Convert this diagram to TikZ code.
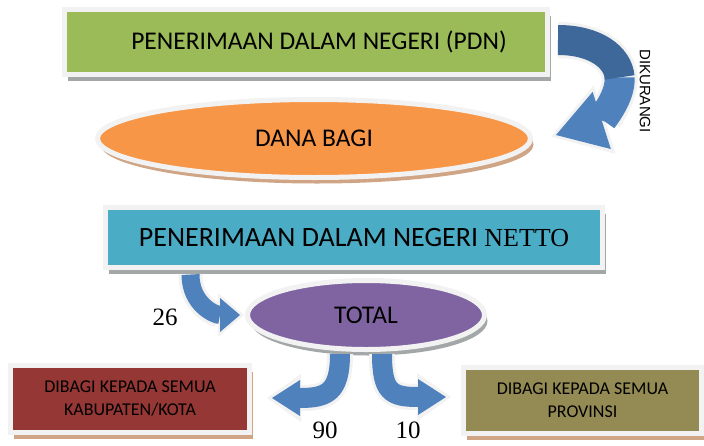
\documentclass[tikz,border=0pt]{standalone}
\usepackage{fontspec}
\setmainfont{Carlito}
\newfontfamily\serifnum{Liberation Serif}
\newfontfamily\arialtxt{Liberation Sans}
\usetikzlibrary{arrows.meta,shapes.geometric,shadows}
\definecolor{pdngreen}{HTML}{9BBB59}
\definecolor{danaorange}{HTML}{F79646}
\definecolor{nettocyan}{HTML}{4BACC6}
\definecolor{totalpurple}{HTML}{8064A2}
\definecolor{kabred}{HTML}{953735}
\definecolor{provolive}{HTML}{948A54}
\definecolor{arrblue}{HTML}{4F81BD}
\definecolor{arrdark}{HTML}{3D6899}
\definecolor{rimgray}{HTML}{F2F2F2}
\definecolor{shgray}{HTML}{A3A7A8}
\definecolor{shtan}{HTML}{D0A585}
\tikzset{
  rimmed/.style     = {draw=rimgray, line width=5pt, inner sep=0pt, align=center},
  castshadow/.style = {drop shadow={shadow xshift=3pt, shadow yshift=-6pt, fill=#1, opacity=1}},
  bigtxt/.style     = {font=\fontsize{25.5}{30}\selectfont},
  smalltxt/.style   = {font=\fontsize{18}{23}\selectfont},
  numtxt/.style     = {font=\serifnum\fontsize{25}{28}\selectfont, inner sep=1pt},
  halo/.style       = {draw=rimgray, line width=#1},
  band/.style       = {draw=arrblue, line width=#1},
}

\begin{document}
\begin{tikzpicture}[x=1pt,y=-1pt]
    \useasboundingbox[fill=white] (0,0) rectangle (704,445);
    \node[rimmed, castshadow=shgray, fill=pdngreen, minimum width=483pt, minimum height=65pt, bigtxt] (pdn) at (306,42) {\hspace*{26pt}PENERIMAAN DALAM NEGERI (PDN)};
    \node[rimmed, ellipse, castshadow=shtan, fill=danaorange, minimum width=433pt, minimum height=78pt, bigtxt] (dana) at (314,138.5) {\raisebox{-3pt}{DANA BAGI}};
    \node[rimmed, castshadow=shgray, fill=nettocyan, minimum width=497pt, minimum height=60pt, font=\fontsize{28}{32}\selectfont] (netto) at (354,237.5) {PENERIMAAN DALAM NEGERI {\serifnum\fontsize{26}{30}\selectfont NETTO}};
    \node[rimmed, ellipse, castshadow=shgray, fill=totalpurple, minimum width=237pt, minimum height=69pt, bigtxt] (total) at (366,315) {\raisebox{-2pt}{TOTAL}};
    \node[rimmed, castshadow=shtan, fill=kabred, minimum width=239pt, minimum height=67pt, smalltxt] (kab) at (130,399) {DIBAGI KEPADA SEMUA\\KABUPATEN/KOTA};
    \node[rimmed, castshadow=shtan, fill=provolive, minimum width=238pt, minimum height=66pt, smalltxt] (prov) at (582.5,400.5) {DIBAGI KEPADA SEMUA\\PROVINSI};

    \coordinate (kS) at ([xshift=8pt,yshift=2pt]pdn.east);
    \coordinate (kM) at (619.6,77.4);
    \coordinate (kE) at ([xshift=23pt,yshift=3.5pt]dana.east);
    \draw[halo=36pt, -{Triangle[length=56pt,width=72pt,line width=0pt]}, shorten >=-5pt] (kS) .. controls (595,40) and (618,57) .. (kM) .. controls (621,98) and (600,121) .. (kE);
    \draw[band=30pt, -{Triangle[length=48pt,width=60pt,line width=0pt]}] (kM) .. controls (621,98) and (600,121) .. (kE);
    \draw[band=30pt, draw=arrdark] (kS) .. controls (595,40) and (618,57) .. (kM);
    \node[font=\arialtxt\fontsize{15}{18}\selectfont, rotate=-90] (kurang) at (645,91) {DIKURANGI};

    \draw[halo=24pt, -{Triangle[length=26pt,width=44pt,line width=0pt]}, shorten >=-4pt] ([xshift=87.5pt,yshift=-4.5pt]netto.south west) .. controls +(0,30) and +(-25,0) .. ([xshift=-5pt]total.west);
    \draw[band=18pt, -{Triangle[length=20pt,width=34pt,line width=0pt]}] ([xshift=87.5pt,yshift=-4.5pt]netto.south west) .. controls +(0,30) and +(-25,0) .. ([xshift=-5pt]total.west);
    \node[numtxt] (n26) at (165,317) {26};

    \draw[halo=26pt, -{Triangle[length=34pt,width=48pt,line width=0pt]}, shorten >=-5pt] ([xshift=-26pt,yshift=-2pt]total.south) .. controls +(0,38) and +(55,0) .. ([xshift=20pt,yshift=1pt]kab.east);
    \draw[band=20pt, -{Triangle[length=28pt,width=36pt,line width=0pt]}] ([xshift=-26pt,yshift=-2pt]total.south) .. controls +(0,38) and +(55,0) .. ([xshift=20pt,yshift=1pt]kab.east);
    \draw[halo=26pt, -{Triangle[length=34pt,width=48pt,line width=0pt]}, shorten >=-5pt] ([xshift=16pt,yshift=-2pt]total.south) .. controls +(0,38) and +(-55,0) .. ([xshift=-15pt,yshift=3.5pt]prov.west);
    \draw[band=20pt, -{Triangle[length=28pt,width=36pt,line width=0pt]}] ([xshift=16pt,yshift=-2pt]total.south) .. controls +(0,38) and +(-55,0) .. ([xshift=-15pt,yshift=3.5pt]prov.west);
    \node[numtxt] (n90) at (325,430) {90};
    \node[numtxt] (n10) at (408,430) {10};
\end{tikzpicture}
\end{document}
